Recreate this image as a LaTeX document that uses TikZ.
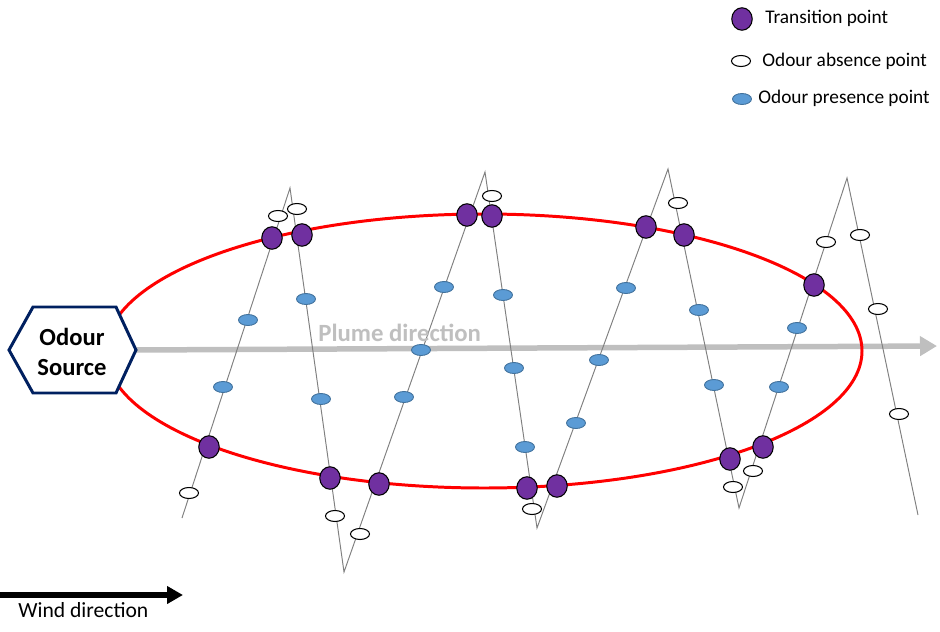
\documentclass[tikz,border=0pt]{standalone}
\usepackage{fontspec}
\setmainfont{Carlito}
\usetikzlibrary{shapes.geometric,arrows.meta}
\definecolor{tpurple}{HTML}{7030A0}
\definecolor{pblue}{HTML}{5B9BD5}
\definecolor{pblueline}{HTML}{41719C}
\definecolor{navy}{HTML}{002060}
\definecolor{plumegray}{HTML}{BFBFBF}
\definecolor{zig}{HTML}{808080}
\tikzset{
  tp/.style={ellipse, draw=black, line width=0.6pt, fill=tpurple, inner sep=0pt, minimum width=0.41cm, minimum height=0.45cm},
  ap/.style={ellipse, draw=black, line width=0.6pt, fill=white, inner sep=0pt, minimum width=0.38cm, minimum height=0.22cm},
  pp/.style={ellipse, draw=pblueline, line width=0.5pt, fill=pblue, inner sep=0pt, minimum width=0.38cm, minimum height=0.22cm},
  zigline/.style={draw=zig, line width=0.55pt},
  plume/.style={draw=plumegray, line width=0.11cm, -{Triangle[length=0.34cm,width=0.38cm]}},
  wind/.style={draw=black, line width=0.11cm, -{Triangle[length=0.32cm,width=0.34cm]}},
  legtext/.style={anchor=base west, inner sep=0pt, font=\fontsize{11}{13}\selectfont},
}
\begin{document}
\begin{tikzpicture}[x=0.02cm, y=-0.02cm]
\useasboundingbox (0,0) rectangle (940,632);
% coordinates
\coordinate (srcR) at (136,350);
\coordinate (plumeEnd) at (937,346);
\coordinate (windStart) at (0,595);
\coordinate (windEnd) at (183,595);
\coordinate (z0) at (182,518);
\coordinate (z1) at (290,188);
\coordinate (z2) at (344,572);
\coordinate (z3) at (485,172);
\coordinate (z4) at (537,528);
\coordinate (z5) at (668,169);
\coordinate (z6) at (739,508);
\coordinate (z7) at (847,178);
\coordinate (z8) at (918,515);
% plume arrow
\draw[plume] (srcR) -- (plumeEnd);
% zigzag path
\draw[zigline] (z0) -- (z1) -- (z2) -- (z3) -- (z4) -- (z5) -- (z6) -- (z7) -- (z8);
% red ellipse
\draw[red, line width=1.7pt] (484,351) ellipse [x radius=378, y radius=137];
% presence points
\node[pp] (b1) at (248,320) {};
\node[pp] (b2) at (223,387) {};
\node[pp] (b3) at (306,299) {};
\node[pp] (b4) at (321,399) {};
\node[pp] (b5) at (444,287) {};
\node[pp] (b6) at (421,350) {};
\node[pp] (b7) at (404,397) {};
\node[pp] (b8) at (503,295) {};
\node[pp] (b9) at (514,368) {};
\node[pp] (b10) at (525,447) {};
\node[pp] (b11) at (626,288) {};
\node[pp] (b12) at (599,360) {};
\node[pp] (b13) at (576,423) {};
\node[pp] (b14) at (699,310) {};
\node[pp] (b15) at (714,385) {};
\node[pp] (b16) at (797,328) {};
\node[pp] (b17) at (779,387) {};
% absence points
\node[ap] (a1) at (278,216) {};
\node[ap] (a2) at (297,209) {};
\node[ap] (a3) at (492,196) {};
\node[ap] (a4) at (678,203) {};
\node[ap] (a5) at (826,242) {};
\node[ap] (a6) at (860,235) {};
\node[ap] (a7) at (878,309) {};
\node[ap] (a8) at (899,414) {};
\node[ap] (a9) at (189,493) {};
\node[ap] (a10) at (335,516) {};
\node[ap] (a11) at (360,534) {};
\node[ap] (a12) at (532,509) {};
\node[ap] (a13) at (753,471) {};
\node[ap] (a14) at (733,487) {};
% transition points
\node[tp] (t1) at (272,238) {};
\node[tp] (t2) at (302,235) {};
\node[tp] (t3) at (467,215) {};
\node[tp] (t4) at (492,216) {};
\node[tp] (t5) at (646,227) {};
\node[tp] (t6) at (684,235) {};
\node[tp] (t7) at (814,285) {};
\node[tp] (t8) at (209,447) {};
\node[tp] (t9) at (330,478) {};
\node[tp] (t10) at (379,484) {};
\node[tp] (t11) at (527,488) {};
\node[tp] (t12) at (557,486) {};
\node[tp] (t13) at (730,459) {};
\node[tp] (t14) at (763,447) {};
% odour source hexagon
\draw[navy, line width=1.7pt, fill=white, line join=miter] (9,350) -- (33,307) -- (116,307) -- (136,350) -- (116,393) -- (33,393) -- cycle;
\node[align=center, inner sep=0pt, font=\bfseries\fontsize{14}{17}\selectfont] (src) at (72,352) {Odour\\Source};
% plume label
\node[anchor=base west, inner sep=0pt, text=plumegray, font=\bfseries\fontsize{14.1}{16}\selectfont] (plumelbl) at (318,341) {Plume direction};
% wind arrow
\draw[wind] (windStart) -- (windEnd);
\node[anchor=base west, inner sep=0pt, font=\fontsize{12.3}{14}\selectfont] (windlbl) at (18,617) {Wind direction};
% legend
\node[tp] (lt) at (742,19) {};
\node[legtext] (ltt) at (765,24) {Transition point};
\node[ap] (la) at (741,61) {};
\node[legtext] (lat) at (762,66) {Odour absence point};
\node[pp] (lp) at (742,99) {};
\node[legtext] (lpt) at (758,103) {Odour presence point};
\end{tikzpicture}
\end{document}
